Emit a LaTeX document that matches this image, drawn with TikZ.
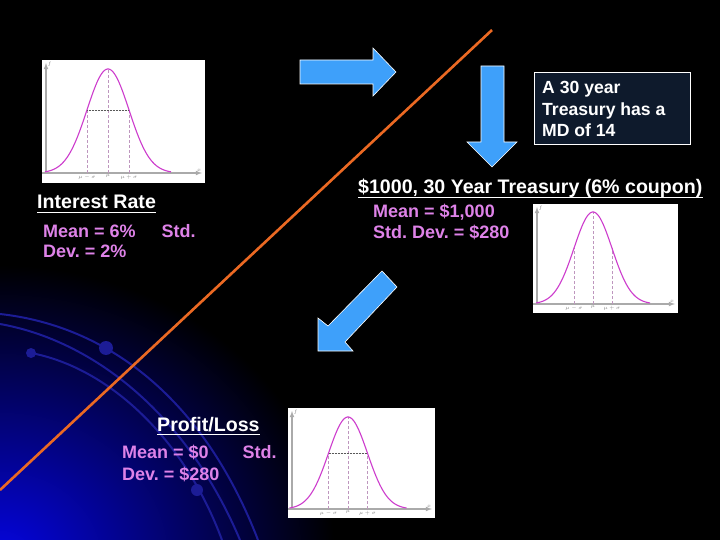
\documentclass[tikz,border=0pt]{standalone}
\usepackage{fontspec}
\setmainfont{Liberation Sans}
\frenchspacing
\begin{document}
\begin{tikzpicture}[x=1pt,y=-1pt,
  arcline/.style={draw=arcblue,line width=2pt},
  arcdot/.style={fill=arcblue},
  blockarrow/.style={fill=arrowblue,draw=white,line width=0.6pt,line join=miter},
  heading/.style={text=white,font=\fontsize{19.6}{23}\selectfont\bfseries\frenchspacing,inner sep=0pt,anchor=base west},
  pinktext/.style={text=pinktx,font=\fontsize{18}{21}\selectfont\bfseries\frenchspacing,inner sep=0pt,anchor=base west},
  boxtext/.style={text=white,font=\fontsize{17.6}{21}\selectfont\bfseries\frenchspacing,inner sep=0pt,anchor=base west},
  uline/.style={draw=white,line width=1.4pt},
  axisc/.style={draw=axisgray,line width=1.1pt},
  guide/.style={draw=guidegray,line width=0.5pt,densely dashed},
  hguide/.style={draw=gray!70!black,line width=0.5pt,densely dotted},
  curvec/.style={draw=curvepink,line width=1.1pt},
  chartlbl/.style={text=gray,font=\fontsize{4}{4}\selectfont,inner sep=0.5pt}
]
\useasboundingbox (0,0) rectangle (720,540);
\definecolor{arcblue}{RGB}{28,28,150}
\definecolor{glowblue}{RGB}{5,5,225}
\definecolor{orangeln}{RGB}{235,105,35}
\definecolor{arrowblue}{RGB}{62,160,250}
\definecolor{pinktx}{RGB}{222,130,232}
\definecolor{boxfill}{RGB}{14,26,44}
\definecolor{curvepink}{RGB}{205,60,205}
\definecolor{axisgray}{RGB}{170,170,170}
\definecolor{guidegray}{RGB}{190,150,190}

\newcommand\normchart[9]{%
  \pgfmathsetmacro\chgt{#8-#9}%
  \pgfmathsetmacro\cys{#8-0.6065*\chgt}%
  \fill[white] (#2,#3) rectangle (#4,#5);
  \draw[axisc,-latex] (#2,#8) -- (#4-3,#8);
  \draw[axisc,-latex] (#2+4,#8) -- (#2+4,#3+3);
  \draw[guide] (#6,#8) -- (#6,#9);
  \draw[guide] (#6-#7,#8) -- (#6-#7,\cys);
  \draw[guide] (#6+#7,#8) -- (#6+#7,\cys);
  \coordinate (#1-l) at (#6-#7,\cys);
  \coordinate (#1-r) at (#6+#7,\cys);
  \draw[curvec] plot[domain={#6-3*#7}:{#6+3*#7},samples=90,smooth]
     (\x,{#8-\chgt*exp(-0.5*((\x-#6)/#7)^2)});
  \node[chartlbl,anchor=north] (#1-a) at (#6-#7,#8+1) {$\mu-\sigma$};
  \node[chartlbl,anchor=north] (#1-b) at (#6,#8+1) {$\mu$};
  \node[chartlbl,anchor=north] (#1-c) at (#6+#7,#8+1) {$\mu+\sigma$};
  \node[chartlbl,anchor=west] (#1-f) at (#2+5,#3+4) {$f$};
  \node[chartlbl,anchor=south] (#1-x) at (#4-6,#8-1) {$x$};
}

% background
\fill[black] (0,0) rectangle (720,540);
\begin{scope}
  \clip (0,0) rectangle (720,540);
  \shade[inner color=glowblue,outer color=black] (0,560) ellipse (335 and 295);
  \draw[arcline] (0,314) .. controls (100,325) and (200,390) .. (258,540);
  \draw[arcline] (0,324) .. controls (90,340) and (185,410) .. (240,540);
  \draw[arcline] (31,353) .. controls (110,368) and (185,440) .. (222,540);
  \fill[arcdot] (106,348) circle (7);
  \fill[arcdot] (31,353) circle (5);
  \fill[arcdot] (197,490) circle (6);
\end{scope}

% orange line
\coordinate (olA) at (0,490);
\coordinate (olB) at (492,30);
\draw[draw=orangeln,line width=2.6pt] (olA) -- (olB);

% charts
\normchart{c1}{42}{60}{205}{183}{108}{21}{173}{69}
\draw[hguide] (c1-l) -- (c1-r);
\normchart{c2}{533}{204}{678}{313}{593}{19}{304}{212}
\normchart{c3}{288}{408}{435}{518}{348}{19.5}{509}{417}
\draw[hguide] (c3-l) -- (c3-r);

% arrows
\filldraw[blockarrow] (300,60) -- (373,60) -- (373,48) -- (396,72) -- (373,96) -- (373,84) -- (300,84) -- cycle;
\filldraw[blockarrow] (481,66) -- (504,66) -- (504,142) -- (517,142) -- (492,167) -- (467,142) -- (481,142) -- cycle;
\filldraw[blockarrow] (382,271) -- (397,287) -- (345,342) -- (353,351) -- (318,351) -- (318,318) -- (328,326) -- cycle;

% info box
\filldraw[fill=boxfill,draw=white,line width=0.8pt] (534,72) rectangle (690,144);
\node[boxtext] (b1) at (542,94) {A 30 year};
\node[boxtext] (b2) at (542,116) {Treasury has a};
\node[boxtext] (b3) at (542,137) {MD of 14};

% headings
\node[heading] (tt) at (358,194) {\$1000, 30 Year Treasury (6\% coupon)};
\draw[uline] ([yshift=-3.5pt]tt.base west) -- ([yshift=-3.5pt]tt.base east);
\node[heading] (ir) at (37,209) {Interest Rate};
\draw[uline] ([yshift=-3.5pt]ir.base west) -- ([yshift=-3.5pt]ir.base east);
\node[heading] (pl) at (157,431) {Profit/Loss};
\draw[uline] ([yshift=-3.5pt]pl.base west) -- ([yshift=-3.5pt]pl.base east);

% pink texts
\node[pinktext] (m1) at (43,237) {Mean = 6\%\hspace{26pt}Std.};
\node[pinktext] (d1) at (43,258) {Dev. = 2\%};
\node[pinktext] (m2) at (373,218) {Mean = \$1,000};
\node[pinktext] (d2) at (373,239) {Std. Dev. = \$280};
\node[pinktext] (m3) at (122,458) {Mean = \$0\hspace{34pt}Std.};
\node[pinktext] (d3) at (122,480) {Dev. = \$280};
\end{tikzpicture}
\end{document}
